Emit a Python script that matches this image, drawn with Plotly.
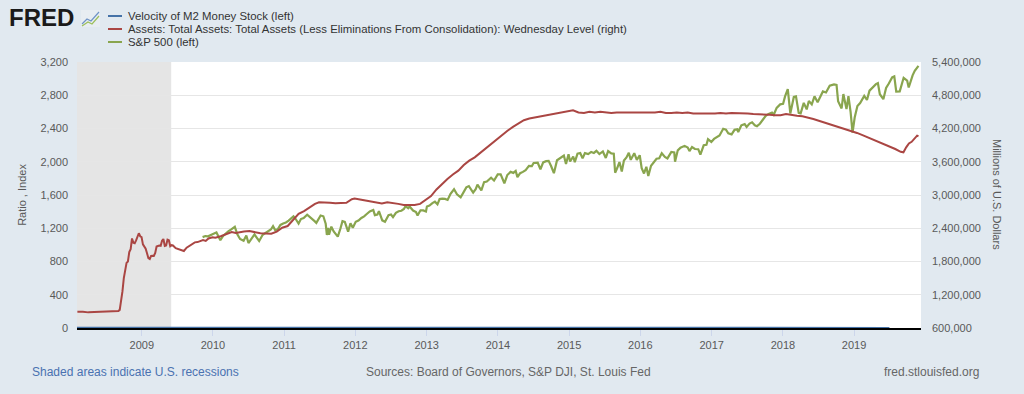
import plotly.graph_objects as go

# ---------------- data ----------------
velocity_dates = [
    "2008-01-01", "2008-04-01", "2008-07-01", "2008-10-01",
    "2009-01-01", "2009-04-01", "2009-07-01", "2009-10-01",
    "2010-01-01", "2010-04-01", "2010-07-01", "2010-10-01",
    "2011-01-01", "2011-04-01", "2011-07-01", "2011-10-01",
    "2012-01-01", "2012-04-01", "2012-07-01", "2012-10-01",
    "2013-01-01", "2013-04-01", "2013-07-01", "2013-10-01",
    "2014-01-01", "2014-04-01", "2014-07-01", "2014-10-01",
    "2015-01-01", "2015-04-01", "2015-07-01", "2015-10-01",
    "2016-01-01", "2016-04-01", "2016-07-01", "2016-10-01",
    "2017-01-01", "2017-04-01", "2017-07-01", "2017-10-01",
    "2018-01-01", "2018-04-01", "2018-07-01", "2018-10-01",
    "2019-01-01", "2019-04-01", "2019-07-01",
]
velocity_values = [
    1.96, 1.96, 1.93, 1.87,
    1.80, 1.76, 1.75, 1.74,
    1.73, 1.73, 1.74, 1.75,
    1.72, 1.71, 1.68, 1.66,
    1.65, 1.63, 1.61, 1.57,
    1.58, 1.56, 1.56, 1.55,
    1.53, 1.54, 1.54, 1.53,
    1.51, 1.51, 1.50, 1.48,
    1.46, 1.45, 1.44, 1.43,
    1.43, 1.43, 1.44, 1.45,
    1.45, 1.46, 1.47, 1.47,
    1.47, 1.46, 1.45,
]

assets_dates = [
    "2008-02-06", "2008-03-05", "2008-04-02", "2008-05-07", "2008-06-04", "2008-07-02",
    "2008-08-06", "2008-09-03", "2008-09-10", "2008-09-17", "2008-09-24", "2008-10-01",
    "2008-10-08", "2008-10-15", "2008-10-22", "2008-10-29", "2008-11-05", "2008-11-12",
    "2008-11-19", "2008-11-26", "2008-12-03", "2008-12-10", "2008-12-17", "2008-12-24",
    "2008-12-31", "2009-01-07", "2009-01-14", "2009-01-21", "2009-01-28", "2009-02-04",
    "2009-02-11", "2009-02-18", "2009-02-25", "2009-03-04", "2009-03-11", "2009-03-18",
    "2009-03-25", "2009-04-01", "2009-04-08", "2009-04-15", "2009-04-22", "2009-04-29",
    "2009-05-06", "2009-05-13", "2009-05-20", "2009-05-27", "2009-06-03", "2009-06-10",
    "2009-06-24", "2009-07-08", "2009-07-22", "2009-08-05", "2009-08-19", "2009-09-02",
    "2009-09-16", "2009-09-30", "2009-10-14", "2009-10-28", "2009-11-11", "2009-11-25",
    "2009-12-09", "2009-12-30",
    "2010-01-13", "2010-02-10", "2010-03-10", "2010-04-07", "2010-04-28", "2010-05-12",
    "2010-06-09", "2010-07-07", "2010-08-04", "2010-09-01", "2010-09-29", "2010-10-27",
    "2010-11-24", "2010-12-22",
    "2011-01-19", "2011-02-16", "2011-03-16", "2011-04-13", "2011-05-11", "2011-06-08",
    "2011-06-29", "2011-07-27", "2011-08-24", "2011-09-21", "2011-10-19", "2011-11-16",
    "2011-12-14", "2011-12-28",
    "2012-01-25", "2012-02-22", "2012-03-21", "2012-04-18", "2012-05-16", "2012-06-13",
    "2012-07-11", "2012-08-08", "2012-09-05", "2012-10-03", "2012-10-31", "2012-11-28",
    "2012-12-26",
    "2013-01-23", "2013-02-20", "2013-03-20", "2013-04-17", "2013-05-15", "2013-06-12",
    "2013-07-10", "2013-08-07", "2013-09-04", "2013-10-02", "2013-10-30", "2013-11-27",
    "2013-12-25",
    "2014-01-22", "2014-02-19", "2014-03-19", "2014-04-16", "2014-05-14", "2014-06-11",
    "2014-07-09", "2014-08-06", "2014-09-03", "2014-10-01", "2014-10-29", "2014-11-26",
    "2014-12-24",
    "2015-01-21", "2015-02-18", "2015-03-18", "2015-04-15", "2015-05-13", "2015-06-10",
    "2015-07-08", "2015-08-05", "2015-09-02", "2015-09-30", "2015-10-28", "2015-11-25",
    "2015-12-23",
    "2016-01-20", "2016-02-17", "2016-03-16", "2016-04-13", "2016-05-11", "2016-06-08",
    "2016-07-06", "2016-08-03", "2016-08-31", "2016-09-28", "2016-10-26", "2016-11-23",
    "2016-12-21",
    "2017-01-18", "2017-02-15", "2017-03-15", "2017-04-12", "2017-05-10", "2017-06-07",
    "2017-07-05", "2017-08-02", "2017-08-30", "2017-09-27", "2017-10-25", "2017-11-22",
    "2017-12-20",
    "2018-01-17", "2018-02-14", "2018-03-14", "2018-04-11", "2018-05-09", "2018-06-06",
    "2018-07-04", "2018-08-01", "2018-08-29", "2018-09-26", "2018-10-24", "2018-11-21",
    "2018-12-19",
    "2019-01-16", "2019-02-13", "2019-03-13", "2019-04-10", "2019-05-08", "2019-06-05",
    "2019-07-03", "2019-07-31", "2019-08-28", "2019-09-11", "2019-09-25", "2019-10-09",
    "2019-10-23", "2019-11-06", "2019-11-20", "2019-11-27",
]
assets_values = [
    892000, 894000, 882000, 889000, 895000, 899000,
    903000, 906000, 927000, 1070000, 1260000, 1500000,
    1630000, 1775000, 1800000, 1970000, 2020000, 2215000,
    2140000, 2130000, 2180000, 2262000, 2310000, 2256000,
    2241000, 2110000, 2080000, 2030000, 1950000, 1860000,
    1845000, 1900000, 1905000, 1900000, 1955000, 2070000,
    2080000, 2090000, 2085000, 2175000, 2205000, 2080000,
    2090000, 2195000, 2185000, 2075000, 2095000, 2090000,
    2040000, 2020000, 2005000, 1990000, 2050000, 2080000,
    2120000, 2145000, 2150000, 2165000, 2185000, 2170000,
    2215000, 2237000,
    2230000, 2255000, 2290000, 2330000, 2315000, 2325000,
    2340000, 2350000, 2325000, 2310000, 2305000, 2300000,
    2340000, 2410000,
    2440000, 2550000, 2660000, 2710000, 2780000, 2840000,
    2870000, 2870000, 2860000, 2850000, 2850000, 2860000,
    2925000, 2935000,
    2920000, 2900000, 2880000, 2865000, 2845000, 2870000,
    2860000, 2840000, 2820000, 2815000, 2820000, 2840000,
    2910000,
    2980000, 3100000, 3200000, 3290000, 3370000, 3440000,
    3540000, 3620000, 3680000, 3760000, 3840000, 3930000,
    4010000,
    4080000, 4160000, 4230000, 4290000, 4350000, 4380000,
    4400000, 4420000, 4430000, 4460000, 4480000, 4490000,
    4510000,
    4530000, 4490000, 4480000, 4500000, 4490000, 4500000,
    4490000, 4480000, 4490000, 4490000, 4480000, 4490000,
    4480000,
    4490000, 4480000, 4490000, 4500000, 4480000, 4480000,
    4490000, 4480000, 4490000, 4470000, 4470000, 4460000,
    4470000,
    4470000, 4480000, 4470000, 4480000, 4480000, 4470000,
    4470000, 4460000, 4460000, 4460000, 4450000, 4440000,
    4440000,
    4460000, 4440000, 4430000, 4420000, 4400000, 4370000,
    4340000, 4310000, 4280000, 4250000, 4220000, 4180000,
    4150000,
    4120000, 4080000, 4040000, 4000000, 3960000, 3920000,
    3880000, 3830000, 3780000, 3770000, 3860000, 3930000,
    3960000, 4010000, 4070000, 4060000,
]

sp_dates = [
    "2009-11-09", "2009-11-23", "2009-12-07", "2009-12-21",
    "2010-01-04", "2010-01-19", "2010-02-08", "2010-02-22", "2010-03-08", "2010-03-22",
    "2010-04-05", "2010-04-23", "2010-05-06", "2010-05-20", "2010-06-07", "2010-06-21",
    "2010-07-02", "2010-07-19", "2010-08-02", "2010-08-16", "2010-08-26", "2010-09-13",
    "2010-09-27", "2010-10-11", "2010-10-25", "2010-11-05", "2010-11-16", "2010-11-29",
    "2010-12-13", "2010-12-27",
    "2011-01-10", "2011-01-24", "2011-02-07", "2011-02-18", "2011-03-02", "2011-03-16",
    "2011-03-28", "2011-04-11", "2011-04-29", "2011-05-09", "2011-05-23", "2011-06-06",
    "2011-06-15", "2011-06-30", "2011-07-07", "2011-07-21", "2011-08-02", "2011-08-08",
    "2011-08-15", "2011-08-19", "2011-08-31", "2011-09-12", "2011-09-22", "2011-10-03",
    "2011-10-17", "2011-10-27", "2011-11-08", "2011-11-25", "2011-12-07", "2011-12-19",
    "2012-01-03", "2012-01-17", "2012-02-01", "2012-02-15", "2012-03-01", "2012-03-15",
    "2012-04-02", "2012-04-10", "2012-04-23", "2012-05-01", "2012-05-18", "2012-06-01",
    "2012-06-19", "2012-07-02", "2012-07-12", "2012-07-27", "2012-08-10", "2012-08-24",
    "2012-09-06", "2012-09-14", "2012-09-28", "2012-10-05", "2012-10-23", "2012-11-07",
    "2012-11-15", "2012-11-30", "2012-12-14", "2012-12-28",
    "2013-01-02", "2013-01-15", "2013-01-30", "2013-02-12", "2013-02-25", "2013-03-08",
    "2013-03-22", "2013-04-05", "2013-04-18", "2013-05-03", "2013-05-21", "2013-06-05",
    "2013-06-24", "2013-07-08", "2013-07-23", "2013-08-05", "2013-08-27", "2013-09-09",
    "2013-09-18", "2013-10-08", "2013-10-22", "2013-11-05", "2013-11-27", "2013-12-12",
    "2013-12-31",
    "2014-01-15", "2014-02-03", "2014-02-18", "2014-03-07", "2014-03-21", "2014-04-02",
    "2014-04-11", "2014-04-25", "2014-05-09", "2014-05-23", "2014-06-09", "2014-06-24",
    "2014-07-03", "2014-07-24", "2014-08-07", "2014-08-21", "2014-09-05", "2014-09-18",
    "2014-10-01", "2014-10-15", "2014-10-31", "2014-11-14", "2014-11-28", "2014-12-05",
    "2014-12-16", "2014-12-29",
    "2015-01-06", "2015-01-22", "2015-01-30", "2015-02-13", "2015-02-27", "2015-03-11",
    "2015-03-23", "2015-04-09", "2015-04-24", "2015-05-08", "2015-05-21", "2015-06-05",
    "2015-06-23", "2015-07-08", "2015-07-20", "2015-08-05", "2015-08-18", "2015-08-25",
    "2015-09-04", "2015-09-16", "2015-09-28", "2015-10-09", "2015-10-22", "2015-11-03",
    "2015-11-13", "2015-12-01", "2015-12-14", "2015-12-29",
    "2016-01-08", "2016-01-20", "2016-02-01", "2016-02-11", "2016-02-25", "2016-03-10",
    "2016-03-24", "2016-04-07", "2016-04-20", "2016-05-06", "2016-05-19", "2016-06-08",
    "2016-06-23", "2016-06-27", "2016-07-11", "2016-07-25", "2016-08-15", "2016-08-31",
    "2016-09-09", "2016-09-22", "2016-10-07", "2016-10-24", "2016-11-04", "2016-11-21",
    "2016-12-05", "2016-12-13", "2016-12-30",
    "2017-01-13", "2017-01-26", "2017-02-10", "2017-03-01", "2017-03-15", "2017-03-27",
    "2017-04-13", "2017-04-28", "2017-05-12", "2017-05-17", "2017-06-02", "2017-06-19",
    "2017-06-29", "2017-07-14", "2017-07-27", "2017-08-10", "2017-08-21", "2017-09-05",
    "2017-09-20", "2017-10-05", "2017-10-20", "2017-11-06", "2017-11-15", "2017-11-30",
    "2017-12-18",
    "2018-01-02", "2018-01-12", "2018-01-26", "2018-02-08", "2018-02-26", "2018-03-09",
    "2018-03-23", "2018-04-02", "2018-04-18", "2018-05-03", "2018-05-14", "2018-05-29",
    "2018-06-12", "2018-06-28", "2018-07-13", "2018-07-25", "2018-08-10", "2018-08-29",
    "2018-09-20", "2018-10-03", "2018-10-11", "2018-10-29", "2018-11-07", "2018-11-23",
    "2018-12-03", "2018-12-14", "2018-12-24",
    "2019-01-04", "2019-01-18", "2019-02-01", "2019-02-22", "2019-03-08", "2019-03-21",
    "2019-04-05", "2019-04-23", "2019-05-03", "2019-05-13", "2019-05-31", "2019-06-14",
    "2019-06-28", "2019-07-15", "2019-07-26", "2019-08-05", "2019-08-23", "2019-09-12",
    "2019-09-30", "2019-10-08", "2019-10-28", "2019-11-08", "2019-11-27",
]
sp_values = [
    1093, 1106, 1103, 1114,
    1133, 1150, 1056, 1108, 1139, 1166,
    1187, 1217, 1128, 1071, 1050, 1113,
    1022, 1071, 1125, 1079, 1047, 1121,
    1142, 1165, 1185, 1225, 1178, 1187,
    1240, 1258,
    1269, 1291, 1320, 1343, 1308, 1257,
    1311, 1324, 1364, 1346, 1317, 1286,
    1265, 1321, 1353, 1344, 1254, 1119,
    1204, 1124, 1219, 1162, 1129, 1099,
    1200, 1285, 1276, 1159, 1261, 1206,
    1277, 1293, 1324, 1343, 1374, 1402,
    1419, 1358, 1366, 1405, 1295, 1278,
    1357, 1365, 1334, 1386, 1405, 1411,
    1432, 1466, 1441, 1461, 1413, 1395,
    1353, 1416, 1414, 1402,
    1462, 1472, 1502, 1519, 1488, 1551,
    1556, 1553, 1541, 1614, 1669, 1609,
    1573, 1640, 1692, 1707, 1630, 1671,
    1725, 1655, 1754, 1762, 1807, 1775,
    1848,
    1848, 1741, 1840, 1878, 1866, 1890,
    1815, 1863, 1878, 1900, 1951, 1949,
    1985, 1988, 1910, 1992, 2007, 2011,
    1946, 1862, 2018, 2039, 2068, 2075,
    1973, 2091,
    2003, 2063, 1995, 2097, 2105, 2040,
    2104, 2092, 2118, 2106, 2131, 2093,
    2124, 2046, 2128, 2100, 2097, 1868,
    1921, 1996, 1882, 2015, 2052, 2109,
    2023, 2103, 2022, 2078,
    1922, 1859, 1940, 1829, 1952, 1989,
    2036, 2041, 2102, 2057, 2040, 2119,
    2113, 2001, 2137, 2169, 2191, 2171,
    2128, 2177, 2153, 2151, 2085, 2198,
    2204, 2271, 2239,
    2275, 2297, 2316, 2396, 2385, 2342,
    2329, 2384, 2391, 2357, 2439, 2453,
    2419, 2459, 2475, 2438, 2428, 2457,
    2508, 2552, 2575, 2591, 2565, 2648,
    2690,
    2696, 2786, 2873, 2581, 2779, 2786,
    2588, 2582, 2708, 2630, 2730, 2690,
    2787, 2716, 2801, 2846, 2833, 2914,
    2931, 2925, 2729, 2641, 2814, 2633,
    2790, 2600, 2351,
    2532, 2671, 2707, 2793, 2743, 2855,
    2893, 2934, 2946, 2812, 2752, 2887,
    2942, 3014, 3026, 2845, 2847, 3010,
    2977, 2893, 3040, 3093, 3153,
]

year_ticks = ["2009-01-01", "2010-01-01", "2011-01-01", "2012-01-01", "2013-01-01",
              "2014-01-01", "2015-01-01", "2016-01-01", "2017-01-01", "2018-01-01",
              "2019-01-01"]
year_labels = ["2009", "2010", "2011", "2012", "2013", "2014", "2015", "2016",
               "2017", "2018", "2019"]

recession_start = "2007-12-01"
recession_end = "2009-06-01"

series_names = [
    "Velocity of M2 Money Stock (left)",
    "Assets: Total Assets: Total Assets (Less Eliminations From Consolidation): Wednesday Level (right)",
    "S&P 500 (left)",
]

# ---------------- styling ----------------
W, H = 1024, 394
ML, MR, MT, MB = 77, 103, 62, 66
PW, PH = W - ML - MR, H - MT - MB
BLUE, RED, GREEN = "#4572a7", "#aa4643", "#89a54e"
FONT = "Liberation Sans, Arial, sans-serif"
TXT = "#595959"


def px(x):
    return (x - ML) / PW


def py(y):
    return (H - MB - y) / PH


fig = go.Figure()

fig.add_trace(go.Scatter(x=velocity_dates, y=velocity_values, mode="lines",
                         line=dict(color=BLUE, width=2), name=series_names[0],
                         showlegend=False, yaxis="y"))
fig.add_trace(go.Scatter(x=assets_dates, y=assets_values, mode="lines",
                         line=dict(color=RED, width=2), name=series_names[1],
                         showlegend=False, yaxis="y2"))
fig.add_trace(go.Scatter(x=sp_dates, y=sp_values, mode="lines",
                         line=dict(color=GREEN, width=2.2), name=series_names[2],
                         showlegend=False, yaxis="y"))

shapes = [
    dict(type="rect", xref="x", yref="paper", x0=recession_start, x1=recession_end,
         y0=0, y1=1, fillcolor="#e5e5e5", line=dict(width=0), layer="below"),
]
annotations = []

# custom legend (compact, like the original)
for i, (name, col) in enumerate(zip(series_names, [BLUE, RED, GREEN])):
    yy = 16 + 13 * i
    shapes.append(dict(type="line", xref="paper", yref="paper",
                       x0=px(108), x1=px(122), y0=py(yy), y1=py(yy),
                       line=dict(color=col, width=2)))
    annotations.append(dict(text=name, xref="paper", yref="paper", x=px(126), y=py(yy),
                            xanchor="left", yanchor="middle", showarrow=False,
                            font=dict(family=FONT, size=11.4, color="#333333")))

# FRED logo
annotations.append(dict(text="<b>FRED</b>", xref="paper", yref="paper", x=px(7), y=py(18),
                        xanchor="left", yanchor="middle", showarrow=False,
                        font=dict(family=FONT, size=24, color="#1a1a1a")))
shapes.append(dict(type="rect", xref="paper", yref="paper", x0=px(81), x1=px(100),
                   y0=py(27), y1=py(10), fillcolor="#e8edf2", line=dict(width=0)))
shapes.append(dict(type="path", xref="paper", yref="paper",
                   path=f"M {px(82)},{py(24)} L {px(87)},{py(19)} L {px(91)},{py(21)} L {px(99)},{py(12)}",
                   line=dict(color="#6f93c6", width=1.2)))
shapes.append(dict(type="path", xref="paper", yref="paper",
                   path=f"M {px(82)},{py(26)} L {px(88)},{py(22)} L {px(92)},{py(24)} L {px(99)},{py(16)}",
                   line=dict(color="#9cbf5a", width=1.2)))

# right axis title (reads top to bottom)
annotations.append(dict(text="Millions of U.S. Dollars", xref="paper", yref="paper",
                        x=px(997), y=py(195), textangle=90, showarrow=False,
                        xanchor="center", yanchor="middle",
                        font=dict(family=FONT, size=11, color=TXT)))

# footer
annotations.append(dict(text="Shaded areas indicate U.S. recessions", xref="paper",
                        yref="paper", x=px(30), y=py(372), xanchor="left", yanchor="middle",
                        showarrow=False, font=dict(family=FONT, size=12, color="#4a72b0")))
annotations.append(dict(text="Sources: Board of Governors, S&P DJI, St. Louis Fed",
                        xref="paper", yref="paper", x=px(508), y=py(372), xanchor="center",
                        yanchor="middle", showarrow=False,
                        font=dict(family=FONT, size=12, color="#666666")))
annotations.append(dict(text="fred.stlouisfed.org", xref="paper", yref="paper", x=px(981),
                        y=py(372), xanchor="right", yanchor="middle", showarrow=False,
                        font=dict(family=FONT, size=12, color="#666666")))

fig.update_layout(
    width=W, height=H,
    margin=dict(l=ML, r=MR, t=MT, b=MB),
    paper_bgcolor="#e1e9f0",
    plot_bgcolor="#ffffff",
    showlegend=False,
    hovermode=False,
    font=dict(family=FONT, size=11, color=TXT),
    xaxis=dict(type="date", range=["2008-02-04", "2019-12-10"],
               tickvals=year_ticks, ticktext=year_labels,
               showgrid=False, ticks="outside", ticklen=6, tickcolor="#ccd6eb",
               showline=True, linecolor="#000000", linewidth=2, zeroline=False,
               tickfont=dict(family=FONT, size=11, color=TXT)),
    yaxis=dict(range=[0, 3200], dtick=400, tick0=0, tickformat=",",
               showgrid=True, gridcolor="#e6e6e6", gridwidth=1, zeroline=False,
               ticks="", ticklabelstandoff=8,
               title=dict(text="Ratio , Index", standoff=11,
                          font=dict(family=FONT, size=11, color=TXT)),
               tickfont=dict(family=FONT, size=11, color=TXT)),
    yaxis2=dict(range=[600000, 5400000], dtick=600000, tick0=600000, tickformat=",",
                overlaying="y", side="right", showgrid=False, zeroline=False,
                ticks="", ticklabelstandoff=10,
                tickfont=dict(family=FONT, size=11, color=TXT)),
    shapes=shapes,
    annotations=annotations,
)

fig.write_html("out.html",
               config={"displayModeBar": False},
               post_script="document.body.style.margin='0';document.body.style.padding='0';")
